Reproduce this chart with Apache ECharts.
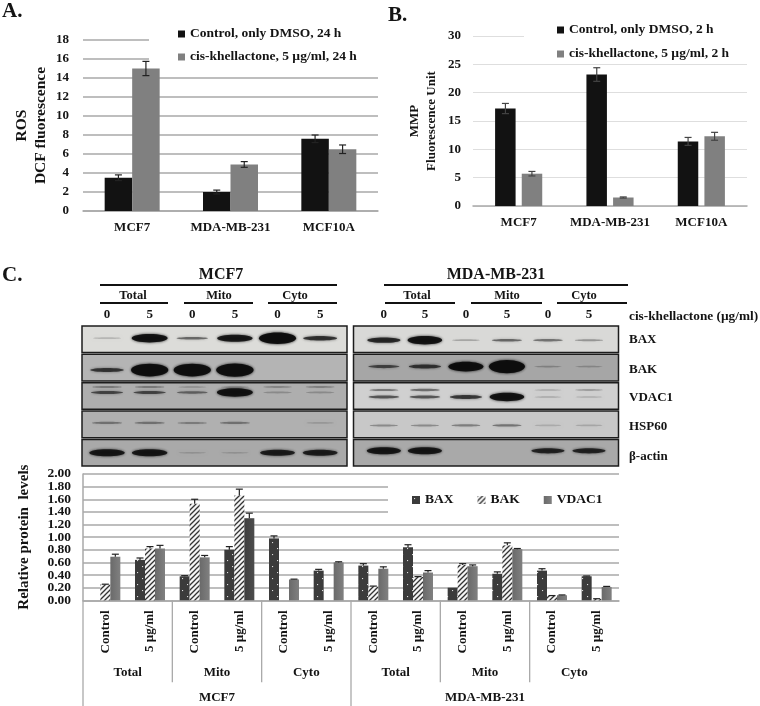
<!DOCTYPE html>
<html><head><meta charset="utf-8">
<style>html,body{margin:0;padding:0;background:#fff}#c{width:760px;height:706px}</style>
<script src="https://cdn.jsdelivr.net/npm/echarts@6/dist/echarts.min.js"></script>
</head><body><div id="c"></div>
<script>
// ---------- data ----------
const cellLines = ['MCF7', 'MDA-MB-231', 'MCF10A'];
const rosControl = [3.5, 2.0, 7.6];
const rosControlErr = [0.3, 0.2, 0.4];
const rosDrug = [15.0, 4.9, 6.5];
const rosDrugErr = [0.75, 0.3, 0.45];
const mmpControl = [17.2, 23.2, 11.4];
const mmpControlErr = [0.9, 1.2, 0.7];
const mmpDrug = [5.7, 1.5, 12.3];
const mmpDrugErr = [0.4, 0.1, 0.7];

const doseCats = ['Control','5 µg/ml','Control','5 µg/ml','Control','5 µg/ml','Control','5 µg/ml','Control','5 µg/ml','Control','5 µg/ml'];
const fractionCats = ['Total','Mito','Cyto','Total','Mito','Cyto'];
const cellCats = ['MCF7','MDA-MB-231'];
const proteinTicks = ['0.00','0.20','0.40','0.60','0.80','1.00','1.20','1.40','1.60','1.80','2.00'];
const bax = [0, 0.64, 0.38, 0.80, 0.98, 0.47, 0.55, 0.84, 0.20, 0.42, 0.47, 0.38];
const baxErr = [0, 0.03, 0.01, 0.05, 0.04, 0.02, 0.03, 0.04, 0, 0.03, 0.03, 0.005];
const bak = [0.25, 0.82, 1.53, 1.66, 0, 0, 0.22, 0.37, 0.56, 0.87, 0.07, 0.02];
const bakErr = [0.005, 0.03, 0.07, 0.10, 0, 0, 0.005, 0.005, 0.02, 0.04, 0.005, 0.005];
const vdac1 = [0.69, 0.82, 0.68, 1.30, 0.33, 0.60, 0.50, 0.44, 0.54, 0.81, 0.08, 0.21];
const vdac1Err = [0.04, 0.05, 0.03, 0.08, 0.005, 0.01, 0.03, 0.03, 0.02, 0.01, 0.005, 0.01];

const blotNames = ['BAX','BAK','VDAC1','HSP60','β-actin'];
const doseLabels = ['0','5','0','5','0','5'];
// band strength, 0..1, per lane
const mcf7Bax = [0.05, 0.85, 0.4, 0.8, 0.95, 0.65];
const mcf7Bak = [0.6, 0.98, 0.98, 1, 0, 0];
const mcf7VdacUpper = [0.2, 0.2, 0.08, 0.08, 0.12, 0.15];
const mcf7VdacLower = [0.5, 0.5, 0.35, 0.85, 0.1, 0.1];
const mcf7Hsp = [0.25, 0.25, 0.2, 0.25, 0, 0.02];
const mcf7Actin = [0.8, 0.8, 0.03, 0.03, 0.75, 0.75];
const mdaBax = [0.7, 0.85, 0.12, 0.4, 0.35, 0.2];
const mdaBak = [0.5, 0.6, 0.9, 1, 0.12, 0.1];
const mdaVdacUpper = [0.3, 0.35, 0, 0, 0.08, 0.12];
const mdaVdacLower = [0.45, 0.45, 0.6, 0.85, 0.08, 0.05];
const mdaHsp = [0.2, 0.2, 0.25, 0.3, 0.03, 0.05];
const mdaActin = [0.8, 0.8, 0, 0, 0.7, 0.7];

// ---------- styling ----------
const SERIF = '"Liberation Serif","Times New Roman",serif';
const INK = '#141414';
const txt = (size, extra) => Object.assign({fontFamily: SERIF, fontWeight: 'bold', fontSize: size, color: INK}, extra || {});
const GRID_DARK = '#a9a9a9', BLACK = '#121212', GREY = '#808080';

function makePattern(kind) {
  const c = document.createElement('canvas');
  const g = c.getContext('2d');
  if (kind === 'dots') {
    c.width = 10; c.height = 12;
    g.fillStyle = '#3b3b3b'; g.fillRect(0, 0, 10, 12);
    g.fillStyle = '#dcdcdc';
    g.fillRect(2, 2, 1.1, 1.1); g.fillRect(7, 8, 1.1, 1.1);
  } else {
    c.width = 5; c.height = 5;
    g.fillStyle = '#f4f4f4'; g.fillRect(0, 0, 5, 5);
    g.strokeStyle = '#333'; g.lineWidth = 1.3;
    g.beginPath();
    g.moveTo(-1, 6); g.lineTo(6, -1);
    g.moveTo(-2, 2); g.lineTo(2, -2);
    g.moveTo(3, 7); g.lineTo(7, 3);
    g.stroke();
  }
  return {image: c, repeat: 'repeat'};
}

function errorSeries(x, y, vals, errs, offset, cap, both, color) {
  return {
    type: 'custom', xAxisIndex: x, yAxisIndex: y, z: 5, silent: true,
    data: vals.map((v, i) => [i, v, errs[i]]),
    encode: {x: 0, y: 1},
    renderItem(p, api) {
      const i = api.value(0), v = api.value(1), e = api.value(2);
      if (!e) return null;
      const cx = api.coord([i, v])[0] + offset;
      const hi = api.coord([i, v + e])[1];
      const lo = both ? api.coord([i, v - e])[1] : api.coord([i, v])[1];
      const st = {stroke: color, lineWidth: 1.2, fill: null};
      const line = (a, b, c, d) => ({type: 'line', shape: {x1: a, y1: b, x2: c, y2: d}, style: st});
      const kids = [line(cx, hi, cx, lo), line(cx - cap, hi, cx + cap, hi)];
      if (both) kids.push(line(cx - cap, lo, cx + cap, lo));
      return {type: 'group', children: kids};
    }
  };
}

function barSeries(name, x, y, vals, color, width, gap) {
  return {name, type: 'bar', xAxisIndex: x, yAxisIndex: y, data: vals, barWidth: width, barGap: gap, z: 2,
    itemStyle: {color}, silent: true};
}

const baseCatAxis = (grid, data) => ({
  type: 'category', gridIndex: grid, data,
  axisLine: {show: true, lineStyle: {color: GRID_DARK, width: 1.5}},
  axisTick: {show: false},
  axisLabel: txt(13, {margin: 10, interval: 0})
});
const baseValAxis = (grid, max, interval, gridColor, gridWidth, name, nameSize, nameGap, lh, labelMargin) => ({
  type: 'value', gridIndex: grid, min: 0, max, interval,
  name, nameLocation: 'middle', nameGap, nameRotate: 90,
  nameTextStyle: txt(nameSize, {lineHeight: lh}),
  axisLine: {show: false}, axisTick: {show: false},
  splitLine: {show: true, showMinLine: true, showMaxLine: true, lineStyle: {color: gridColor, width: gridWidth}},
  axisLabel: txt(13, {margin: labelMargin, showMinLabel: true, showMaxLabel: true})
});

// tick labels of the tightly spaced protein axis: placed through its value scale
const proteinTickSeries = {
  type: 'custom', xAxisIndex: 2, yAxisIndex: 2, z: 6, silent: true, clip: false,
  data: proteinTicks.map(t => [0, Number(t)]), encode: {x: 0, y: 1},
  renderItem(p, api) {
    const v = api.value(1);
    return {type: 'text', style: {text: v.toFixed(2), x: p.coordSys.x - 12, y: api.coord([0, v])[1],
      align: 'right', verticalAlign: 'middle', font: 'bold 13.5px ' + SERIF, fill: INK}};
  }
};

// ---------- blot series ----------
const laneW = 0.8;
function blotPanels(x, y, colors) {
  return {
    type: 'custom', xAxisIndex: x, yAxisIndex: y, z: 2, silent: true,
    data: blotNames.map((n, i) => [0, i]), encode: {x: 0, y: 1},
    renderItem(p, api) {
      const r = api.value(1);
      const cy = api.coord([0, r])[1];
      const cs = p.coordSys;
      return {type: 'rect', shape: {x: cs.x, y: cy - 13.3, width: cs.width, height: 26.6},
        style: {fill: colors[r], stroke: '#1c1c1c', lineWidth: 1.5}};
    }
  };
}
function blotBands(x, y, row, strengths, dy) {
  return {
    type: 'custom', xAxisIndex: x, yAxisIndex: y, z: 3, silent: true,
    data: strengths.map((s, i) => [i, row, s]), encode: {x: 0, y: 1},
    renderItem(p, api) {
      const s = api.value(2);
      if (s <= 0) return null;
      const c = api.coord([api.value(0), api.value(1)]);
      const rx = api.size([1, 0])[0] * laneW * (0.8 + 0.3 * s) / 2;
      const ry = (1.6 + 10 * s * s * s * s + 1.8 * s) / 2;
      const col = 'rgba(12,12,12,' + (0.12 + 0.84 * Math.min(1, s * 1.1)).toFixed(2) + ')';
      return {type: 'ellipse', shape: {cx: c[0], cy: c[1] + dy, rx, ry},
        style: {fill: col, shadowBlur: 3, shadowColor: col}};
    }
  };
}
function blotDoses(x, y) {
  return {
    type: 'custom', xAxisIndex: x, yAxisIndex: y, z: 3, silent: true, clip: false,
    data: doseLabels.map((d, i) => [i, 0, d]), encode: {x: 0, y: 1},
    renderItem(p, api) {
      const c = api.coord([api.value(0), 0]);
      return {type: 'text', style: {text: doseLabels[api.value(0)], x: c[0], y: p.coordSys.y - 10,
        align: 'center', verticalAlign: 'middle', font: 'bold 13px ' + SERIF, fill: INK}};
    }
  };
}
const blotY = g => ({type: 'category', gridIndex: g, inverse: true, data: blotNames, show: false});
const blotX = (g, min, max) => ({type: 'value', gridIndex: g, min, max, show: false, splitLine: {show: false}});

// ---------- separators below plot C ----------
const separatorStarts = [0, 2, 4, 6, 8, 10];
const separatorSeries = {
  type: 'custom', xAxisIndex: 2, yAxisIndex: 2, z: 3, silent: true, clip: false,
  data: separatorStarts.map(i => [i, 0]), encode: {x: 0, y: 1},
  renderItem(p, api) {
    const i = api.value(0);
    const x = api.coord([i, 0])[0] - api.size([1, 0])[0] / 2;
    const y = api.coord([i, 0])[1];
    return {type: 'line', shape: {x1: x, y1: y, x2: x, y2: y + (i % 6 === 0 ? 106 : 82)},
      style: {stroke: GRID_DARK, lineWidth: 1.3}};
  }
};

// ---------- fixed text and rules ----------
const texts = [
  ['A.', 2, 12, 21, 'left'], ['B.', 388, 16, 21, 'left'], ['C.', 2, 276, 21, 'left'],
  ['MCF7', 221, 275, 16, 'center'], ['MDA-MB-231', 496, 275, 16, 'center'],
  ['Total', 133, 296, 12.5, 'center'], ['Mito', 219, 296, 12.5, 'center'], ['Cyto', 295, 296, 12.5, 'center'],
  ['Total', 417, 296, 12.5, 'center'], ['Mito', 507, 296, 12.5, 'center'], ['Cyto', 584, 296, 12.5, 'center'],
  ['cis-khellactone (µg/ml)', 629, 317, 13.3, 'left'],
  ['BAX', 629, 340, 13, 'left'], ['BAK', 629, 370, 13, 'left'], ['VDAC1', 629, 398, 13, 'left'],
  ['HSP60', 629, 427, 13, 'left'], ['β-actin', 629, 457, 13, 'left']
];
const rules = [[100,337,285],[100,168,303],[184,253,303],[268,337,303],[384,628,285],[385,455,303],[471,542,303],[557,627,303]];
const masks = [[149,25,232,38],[524,18,236,40],[388,479,232,39]];

const graphics = [
  ...masks.map(m => ({type: 'rect', z: 1, silent: true, shape: {x: m[0], y: m[1], width: m[2], height: m[3]}, style: {fill: '#fff'}})),
  ...texts.map(t => ({type: 'text', z: 6, silent: true, x: t[1], y: t[2],
    style: {text: t[0], align: t[4], verticalAlign: 'middle', font: 'bold ' + t[3] + 'px ' + SERIF, fill: INK}})),
  ...rules.map(r => ({type: 'line', z: 6, silent: true, shape: {x1: r[0], y1: r[2], x2: r[1], y2: r[2]}, style: {stroke: '#111', lineWidth: 2}}))
];

const patDots = makePattern('dots'), patStripes = makePattern('stripes');
const vdacFill = {type: 'linear', x: 0, y: 0, x2: 1, y2: 0, colorStops: [{offset: 0, color: '#6a6a6a'}, {offset: 1, color: '#808080'}]};
const vdacDark = {type: 'linear', x: 0, y: 0, x2: 1, y2: 0, colorStops: [{offset: 0, color: '#3e3e3e'}, {offset: 1, color: '#4c4c4c'}]};
const vdacSeries = barSeries('VDAC1', 2, 2, vdac1.map(v => v > 1 ? {value: v, itemStyle: {color: vdacDark}} : v), vdacFill, 10, '0%');

const option = {
  backgroundColor: '#fff',
  animation: false,
  textStyle: {fontFamily: SERIF},
  graphic: graphics,
  grid: [
    {left: 83, top: 40, width: 295, height: 171},
    {left: 473, top: 36, width: 274, height: 170},
    {left: 83, top: 474, width: 536, height: 126.3},
    {left: 82, top: 325, width: 265, height: 142},
    {left: 353.5, top: 325, width: 265, height: 142}
  ],
  legend: [
    {data: ['Control, only DMSO, 24 h', 'cis-khellactone, 5 µg/ml, 24 h'], orient: 'vertical', left: 178, top: 27, padding: 0, icon: 'rect', itemWidth: 7, itemHeight: 7, itemGap: 9,
      textStyle: txt(13.5)},
    {data: ['Control, only DMSO, 2 h', 'cis-khellactone, 5 µg/ml, 2 h'], orient: 'vertical', left: 557, top: 23, padding: 0, icon: 'rect', itemWidth: 7, itemHeight: 7, itemGap: 10,
      textStyle: txt(13.5)},
    {data: ['BAX', 'BAK', 'VDAC1'], orient: 'horizontal', left: 412, top: 493, padding: 0, icon: 'rect', itemWidth: 8, itemHeight: 8, itemGap: 24,
      textStyle: txt(13.5)}
  ],
  xAxis: [
    baseCatAxis(0, cellLines),
    baseCatAxis(1, cellLines),
    Object.assign(baseCatAxis(2, doseCats), {axisLabel: txt(13, {rotate: 90, margin: 10, interval: 0})}),
    {type: 'category', gridIndex: 2, position: 'bottom', data: fractionCats, min: 0, max: 5,
      axisLine: {show: false}, axisTick: {show: false}, axisLabel: txt(13, {margin: 66, interval: 0})},
    {type: 'category', gridIndex: 2, position: 'bottom', data: cellCats, min: 0, max: 1,
      axisLine: {show: false}, axisTick: {show: false}, axisLabel: txt(13, {margin: 91, interval: 0})},
    blotX(3, -0.587, 5.63),
    blotX(4, -0.74, 5.72)
  ],
  yAxis: [
    baseValAxis(0, 18, 2, GRID_DARK, 1.5, 'ROS\nDCF fluorescence', 15.5, 33, 19, 14),
    baseValAxis(1, 30, 5, '#dedede', 1, 'MMP\nFluorescence Unit', 13, 33, 17, 12),
    Object.assign(baseValAxis(2, 2, 0.2, GRID_DARK, 1.5, 'Relative protein  levels', 15, 50, 17, 12), {
      axisLine: {show: true, lineStyle: {color: GRID_DARK, width: 1.5}},
      axisLabel: {show: false}
    }),
    blotY(3),
    blotY(4)
  ],
  series: [
    barSeries('Control, only DMSO, 24 h', 0, 0, rosControl, BLACK, 27.5, '0%'),
    barSeries('cis-khellactone, 5 µg/ml, 24 h', 0, 0, rosDrug, GREY, 27.5, '0%'),
    errorSeries(0, 0, rosControl, rosControlErr, -13.75, 3.5, true, '#222'),
    errorSeries(0, 0, rosDrug, rosDrugErr, 13.75, 3.5, true, '#222'),

    barSeries('Control, only DMSO, 2 h', 1, 1, mmpControl, BLACK, 20.5, '30%'),
    barSeries('cis-khellactone, 5 µg/ml, 2 h', 1, 1, mmpDrug, GREY, 20.5, '30%'),
    errorSeries(1, 1, mmpControl, mmpControlErr, -13.25, 3.5, true, '#444'),
    errorSeries(1, 1, mmpDrug, mmpDrugErr, 13.25, 3.5, true, '#444'),

    barSeries('BAX', 2, 2, bax, patDots, 10, '0%'),
    barSeries('BAK', 2, 2, bak, patStripes, 10, '0%'),
    vdacSeries,
    errorSeries(2, 2, bax, baxErr, -10, 3.5, false, '#222'),
    errorSeries(2, 2, bak, bakErr, 0, 3.5, false, '#222'),
    errorSeries(2, 2, vdac1, vdac1Err, 10, 3.5, false, '#222'),
    separatorSeries,
    proteinTickSeries,

    blotPanels(5, 3, ['#dcdcd9', '#b4b4b4', '#aeaeae', '#b0b0b0', '#a9a9a9']),
    blotDoses(5, 3),
    blotBands(5, 3, 0, mcf7Bax, -1),
    blotBands(5, 3, 1, mcf7Bak, 2.5),
    blotBands(5, 3, 2, mcf7VdacUpper, -9),
    blotBands(5, 3, 2, mcf7VdacLower, -3.5),
    blotBands(5, 3, 3, mcf7Hsp, -1.5),
    blotBands(5, 3, 4, mcf7Actin, 0),

    blotPanels(6, 4, ['#d9d9d7', '#a6a6a6', '#d0d0d0', '#c8c8c8', '#a9a9a9']),
    blotDoses(6, 4),
    blotBands(6, 4, 0, mdaBax, 1),
    blotBands(6, 4, 1, mdaBak, -1),
    blotBands(6, 4, 2, mdaVdacUpper, -6),
    blotBands(6, 4, 2, mdaVdacLower, 1),
    blotBands(6, 4, 3, mdaHsp, 1),
    blotBands(6, 4, 4, mdaActin, -2)
  ]
};
echarts.init(document.getElementById('c'), null, {renderer: 'canvas'}).setOption(option);
</script>
</body></html>
